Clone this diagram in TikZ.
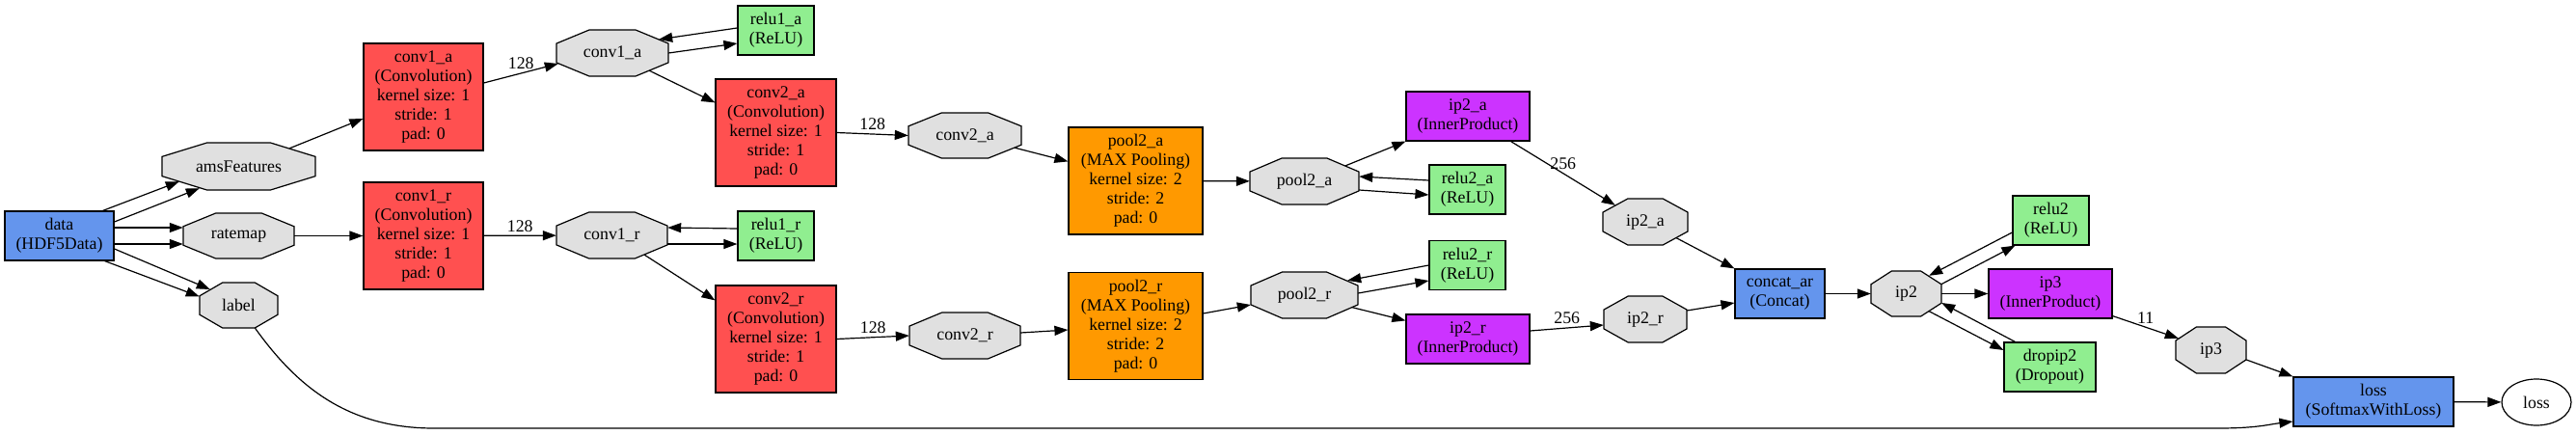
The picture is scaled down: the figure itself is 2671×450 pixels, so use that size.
\documentclass[tikz,border=0pt]{standalone}
\usepackage{fontspec}
\setmainfont{Liberation Serif}
\usetikzlibrary{arrows.meta,shapes.geometric}
\definecolor{datablue}{HTML}{6495ED}
\definecolor{convred}{HTML}{FF5050}
\definecolor{poolorange}{HTML}{FF9900}
\definecolor{ipviolet}{HTML}{CC33FF}
\definecolor{relugreen}{HTML}{90EE90}
\definecolor{blobgrey}{HTML}{E0E0E0}
\newcommand{\netfont}{\fontsize{17.8}{20}\selectfont}
\newcommand{\blob}[5]{%
    \path[blobline, shift={(#2)}] (-#3/2,.207*#4) -- (-.207*#3,#4/2) -- (.207*#3,#4/2) -- (#3/2,.207*#4)
        -- (#3/2,-.207*#4) -- (.207*#3,-#4/2) -- (-.207*#3,-#4/2) -- (-#3/2,-.207*#4) -- cycle;
    \node[inner sep=0pt, minimum width=#3pt, minimum height=#4pt] (#1) at (#2) {#5};
}
\tikzset{
    layer/.style={draw, line width=1.2pt, align=center, inner sep=0pt},
    bluebox/.style={layer, fill=datablue, minimum height=51pt},
    convbox/.style={layer, fill=convred, minimum width=124pt, minimum height=111pt},
    poolbox/.style={layer, fill=poolorange, minimum width=139pt, minimum height=111pt},
    ipbox/.style={layer, fill=ipviolet, minimum width=128pt, minimum height=51pt},
    relubox/.style={layer, fill=relugreen, minimum width=79pt, minimum height=51pt},
    blobline/.style={draw, fill=blobgrey, line width=1.2pt},
    link/.style={line width=1.2pt, -{Triangle[length=14pt,width=10pt]}},
}
\begin{document}
\begin{tikzpicture}[x=1pt, y=-1pt, font=\netfont]
    \useasboundingbox (0,0) rectangle (2671,450);

    \node[bluebox, minimum width=113pt] (data) at (61.5,244.5) {data\\(HDF5Data)};
    \blob{amsFeatures}{247.5,172.5}{159}{49}{amsFeatures}
    \blob{ratemap}{247.5,244.5}{115}{47}{ratemap}
    \blob{label}{247.5,316.5}{81}{47}{label}

    \node[convbox] (conv1a) at (439,100.5) {conv1\_a\\(Convolution)\\kernel size: 1\\stride: 1\\pad: 0};
    \node[convbox] (conv1r) at (439,244.5) {conv1\_r\\(Convolution)\\kernel size: 1\\stride: 1\\pad: 0};
    \blob{conv1ablob}{635,55}{116}{48}{conv1\_a}
    \blob{conv1rblob}{634.5,244}{115}{48}{conv1\_r}
    \node[relubox] (relu1a) at (804.5,31.5) {relu1\_a\\(ReLU)};
    \node[relubox] (relu1r) at (804.5,244.5) {relu1\_r\\(ReLU)};
    \node[convbox, minimum width=125pt] (conv2a) at (804.5,137.5) {conv2\_a\\(Convolution)\\kernel size: 1\\stride: 1\\pad: 0};
    \node[convbox, minimum width=125pt] (conv2r) at (804.5,351.5) {conv2\_r\\(Convolution)\\kernel size: 1\\stride: 1\\pad: 0};
    \blob{conv2ablob}{1000.5,140.5}{117}{47}{conv2\_a}
    \blob{conv2rblob}{1000.5,348}{115}{48}{conv2\_r}
    \node[poolbox] (pool2a) at (1177.5,187.5) {pool2\_a\\(MAX Pooling)\\kernel size: 2\\stride: 2\\pad: 0};
    \node[poolbox] (pool2r) at (1177.5,338) {pool2\_r\\(MAX Pooling)\\kernel size: 2\\stride: 2\\pad: 0};
    \blob{pool2ablob}{1352.5,188}{113}{48}{pool2\_a}
    \blob{pool2rblob}{1352.5,306}{111}{48}{pool2\_r}
    \node[ipbox] (ip2a) at (1522,120.5) {ip2\_a\\(InnerProduct)};
    \node[relubox] (relu2a) at (1521.5,196.5) {relu2\_a\\(ReLU)};
    \node[relubox] (relu2r) at (1521.5,275) {relu2\_r\\(ReLU)};
    \node[ipbox] (ip2r) at (1522,351.5) {ip2\_r\\(InnerProduct)};
    \blob{ip2ablob}{1706,230}{88}{48}{ip2\_a}
    \blob{ip2rblob}{1706,331}{86}{48}{ip2\_r}
    \node[bluebox, minimum width=93pt] (concat) at (1845.5,304.5) {concat\_ar\\(Concat)};
    \blob{ip2blob}{1976.5,304.5}{73}{47}{ip2}
    \node[relubox] (relu2) at (2126.5,228.5) {relu2\\(ReLU)};
    \node[ipbox] (ip3) at (2126,304.5) {ip3\\(InnerProduct)};
    \node[relubox, minimum width=95pt] (dropip2) at (2125.5,380.5) {dropip2\\(Dropout)};
    \blob{ip3blob}{2292.5,363}{73}{48}{ip3}
    \node[bluebox, minimum width=166pt] (loss) at (2461,416.5) {loss\\(SoftmaxWithLoss)};
    \node[draw, ellipse, line width=1.2pt, inner sep=0pt, minimum width=72pt, minimum height=48pt] (lossblob) at (2630,417) {loss};

    \draw[link] ([shift={(-12,0)}]data.north east) -- ([shift={(18,-9)}]amsFeatures.south west);
    \draw[link] ([shift={(0,-14.5)}]data.east) -- ([shift={(39,-2)}]amsFeatures.south west);
    \draw[link] ([shift={(0,-8.5)}]data.east) -- ([shift={(0,-8.5)}]ratemap.west);
    \draw[link] ([shift={(0,8.5)}]data.east) -- ([shift={(0,8.5)}]ratemap.west);
    \draw[link] ([shift={(0,13.5)}]data.east) -- ([shift={(11,-16.5)}]label.west);
    \draw[link] ([shift={(-10,0)}]data.south east) -- ([shift={(0,-9)}]label.west);

    \draw[link] ([shift={(-27,6)}]amsFeatures.north east) -- ([shift={(0,22.5)}]conv1a.west);
    \draw[link] (ratemap) -- (conv1r);
    \coordinate (lowleft) at (450,444);
    \coordinate (lowright) at (2300,444);
    \draw[link] ([shift={(17,0)}]label.south) .. controls +(43,60) and +(-90,0) .. (lowleft) -- (lowright)
        .. controls +(40,0) and +(-25,3) .. ([shift={(0,20.5)}]loss.west);

    \draw[link] ([shift={(0,-14.5)}]conv1a.east) -- ([shift={(2,11)}]conv1ablob.west) node[midway, above] {128};
    \draw[link] ([shift={(0,-2.5)}]relu1a.west) -- ([shift={(-10,10)}]conv1ablob.north east);
    \draw[link] (conv1ablob.east) -- ([shift={(0,13.5)}]relu1a.west);
    \draw[link] ([shift={(-20,-6)}]conv1ablob.south east) -- ([shift={(0,25)}]conv2a.north west);
    \draw[link] (conv1r) -- (conv1rblob) node[midway, above] {128};
    \draw[link] ([shift={(0,-7.5)}]relu1r.west) -- ([shift={(0,-8)}]conv1rblob.east);
    \draw[link] ([shift={(0,9)}]conv1rblob.east) -- ([shift={(0,8.5)}]relu1r.west);
    \draw[link] ([shift={(-24,-4)}]conv1rblob.south east) -- ([shift={(0,16)}]conv2r.north west);

    \draw[link] (conv2a.east) -- (conv2ablob.west) node[midway, above] {128};
    \draw[link] ([shift={(-7,-11)}]conv2ablob.south east) -- ([shift={(0,36)}]pool2a.north west);
    \draw[link] (conv2r.east) -- (conv2rblob.west) node[midway, above] {128};
    \draw[link] ([shift={(0,-3)}]conv2rblob.east) -- ([shift={(0,4)}]pool2r.west);

    \draw[link] (pool2a) -- (pool2ablob);
    \draw[link] ([shift={(-14,8)}]pool2ablob.north east) -- (ip2a.south west);
    \draw[link] ([shift={(0,-9.5)}]relu2a.west) -- ([shift={(0,-5)}]pool2ablob.east);
    \draw[link] ([shift={(0,9)}]pool2ablob.east) -- ([shift={(0,5.5)}]relu2a.west);
    \draw[link] ([shift={(0,-13)}]pool2r.east) -- ([shift={(0,10)}]pool2rblob.west);
    \draw[link] (relu2r.west) -- ([shift={(-11,9)}]pool2rblob.north east);
    \draw[link] ([shift={(0,-2)}]pool2rblob.east) -- ([shift={(0,16)}]relu2r.west);
    \draw[link] ([shift={(-6,-11.5)}]pool2rblob.south east) -- ([shift={(0,7)}]ip2r.north west);

    \draw[link] ([shift={(-20,0)}]ip2a.south east) -- ([shift={(13,7)}]ip2ablob.north west) node[midway, above] {256};
    \draw[link] ([shift={(0,-8.5)}]ip2r.east) -- ([shift={(0,6)}]ip2rblob.west) node[midway, above] {256};
    \draw[link] ([shift={(-12,-7.5)}]ip2ablob.south east) -- (concat.north west);
    \draw[link] ([shift={(0,-9)}]ip2rblob.east) -- ([shift={(0,9.5)}]concat.west);
    \draw[link] (concat) -- (ip2blob);

    \draw[link] ([shift={(0,12.5)}]relu2.west) -- ([shift={(-13,5)}]ip2blob.north east);
    \draw[link] ([shift={(0,-10)}]ip2blob.east) -- ([shift={(3,0)}]relu2.south west);
    \draw[link] (ip2blob) -- (ip3);
    \draw[link] ([shift={(12,0)}]dropip2.north west) -- ([shift={(0,9.5)}]ip2blob.east);
    \draw[link] ([shift={(-13,-5.5)}]ip2blob.south east) -- ([shift={(0,-17.5)}]dropip2.west);
    \draw[link] ([shift={(0,-3)}]ip3.south east) -- ([shift={(3,12)}]ip3blob.north west) node[midway, above] {11};
    \draw[link] ([shift={(0,10)}]ip3blob.east) -- (loss.north west);
    \draw[link] (loss) -- (lossblob);
\end{tikzpicture}
\end{document}
